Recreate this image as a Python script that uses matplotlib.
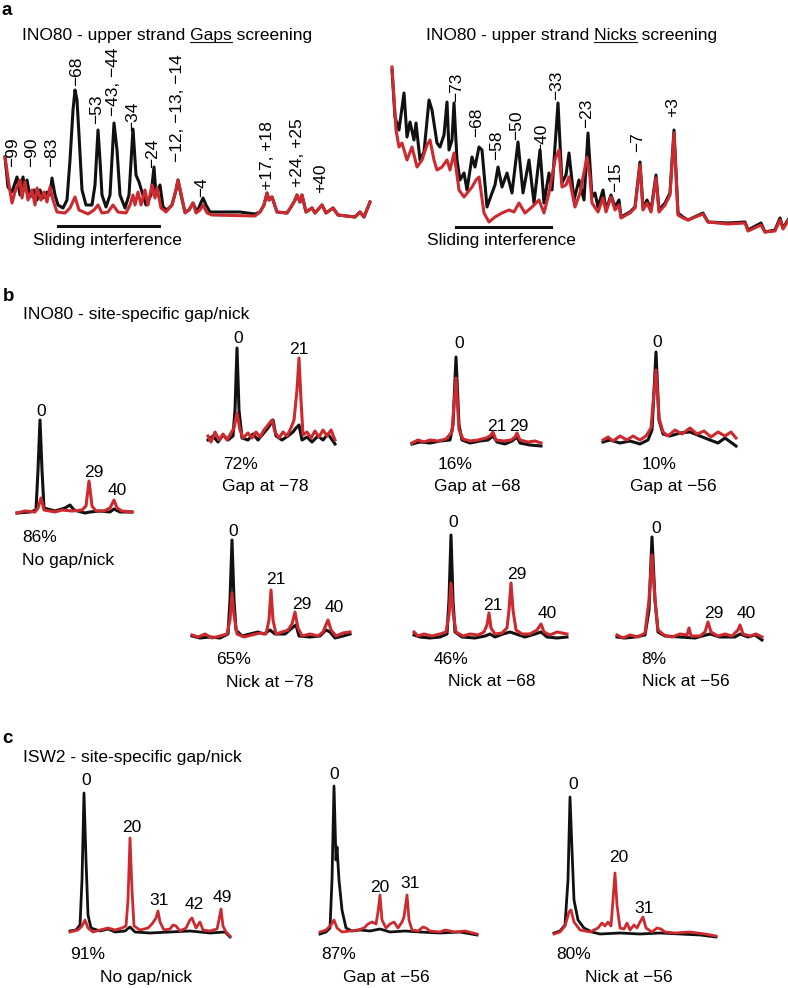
import matplotlib
matplotlib.use("Agg")
import matplotlib.pyplot as plt
from matplotlib.lines import Line2D

plt.rcParams['font.family'] = ['Liberation Sans', 'DejaVu Sans']

BLACK = "#111111"
RED = "#cc2a2e"

# ---- traces: (position along lane, signal above baseline) ----
# a, gaps screening
a_gaps_black = [(0, 65), (3, 35), (7, 30), (12, 45), (15, 27), (18, 45), (20, 32), (22, 42), (25, 25),
                (29, 32), (32, 22), (35, 32), (38, 24), (42, 30), (45, 27), (47, 44), (50, 27), (53, 17),
                (58, 14), (62, 22), (65, 62), (68, 112), (70, 132), (72, 122), (74, 87), (77, 32), (81, 17),
                (87, 17), (90, 37), (93, 92), (95, 62), (97, 27), (101, 15), (105, 27), (109, 99), (112, 72),
                (115, 27), (120, 14), (124, 27), (128, 93), (131, 47), (134, 40), (137, 30), (141, 17),
                (146, 27), (149, 55), (151, 27), (155, 37), (158, 15), (162, 12), (167, 17), (171, 32),
                (173, 42), (176, 27), (180, 10), (184, 12), (188, 19), (192, 10), (198, 24), (201, 17),
                (205, 10), (210, 10), (235, 10), (250, 8), (255, 10), (259, 17), (262, 29), (264, 22),
                (267, 25), (272, 10), (282, 9), (286, 15), (290, 22), (292, 27), (295, 20), (297, 27),
                (301, 10), (307, 14), (310, 9), (317, 17), (321, 9), (328, 14), (333, 7), (350, 5),
                (355, 10), (359, 5), (365, 20)]
a_gaps_red = [(0, 65), (4, 37), (7, 19), (10, 30), (15, 42), (17, 24), (20, 40), (23, 22), (27, 32),
              (30, 17), (32, 34), (36, 22), (39, 30), (42, 20), (45, 35), (48, 22), (52, 10), (60, 9),
              (65, 14), (70, 25), (74, 12), (83, 8), (89, 12), (93, 17), (97, 9), (103, 10), (108, 17),
              (113, 10), (121, 9), (125, 17), (128, 27), (130, 17), (133, 30), (136, 17), (140, 32),
              (143, 17), (147, 37), (150, 24), (152, 34), (156, 14), (161, 10), (167, 17), (171, 32),
              (173, 42), (176, 29), (180, 9), (184, 12), (188, 19), (191, 9), (195, 12), (198, 17),
              (202, 9), (207, 7), (250, 6), (255, 10), (259, 17), (262, 29), (264, 22), (267, 25),
              (272, 10), (282, 9), (286, 15), (290, 22), (292, 27), (295, 20), (297, 27), (301, 10),
              (307, 14), (310, 9), (317, 17), (321, 9), (328, 14), (333, 7), (350, 5), (355, 10),
              (359, 5), (365, 20)]
# a, nicks screening
a_nicks_black = [(0, 165), (3, 118), (7, 105), (12, 142), (15, 98), (18, 113), (22, 95), (24, 112),
                 (28, 75), (32, 83), (37, 135), (40, 125), (45, 92), (48, 88), (52, 100), (55, 133),
                 (57, 85), (60, 95), (62, 132), (65, 75), (68, 55), (72, 62), (75, 45), (80, 78), (83, 68),
                 (87, 88), (90, 85), (95, 28), (100, 42), (103, 50), (106, 68), (110, 48), (115, 62),
                 (120, 42), (126, 93), (131, 42), (137, 75), (142, 32), (148, 85), (152, 32), (157, 62),
                 (160, 45), (166, 132), (170, 52), (174, 60), (177, 82), (182, 35), (187, 55), (192, 35),
                 (196, 102), (200, 38), (203, 42), (206, 28), (211, 45), (214, 25), (219, 40), (223, 28),
                 (227, 35), (229, 18), (238, 23), (243, 28), (248, 73), (251, 27), (255, 35), (259, 25),
                 (264, 60), (267, 25), (273, 32), (278, 42), (282, 105), (286, 22), (291, 18), (296, 15),
                 (311, 22), (316, 13), (336, 12), (353, 13), (356, 5), (369, 12), (373, 3), (383, 5),
                 (388, 17), (391, 7), (396, 15)]
a_nicks_red = [(0, 168), (4, 105), (7, 88), (10, 92), (15, 75), (20, 88), (25, 68), (30, 75), (35, 90),
               (38, 95), (42, 75), (45, 65), (50, 68), (55, 75), (58, 65), (62, 82), (67, 45), (72, 38),
               (76, 43), (80, 48), (84, 55), (87, 58), (92, 22), (97, 13), (103, 18), (110, 22), (117, 25),
               (122, 23), (127, 32), (133, 22), (140, 28), (147, 35), (152, 22), (157, 42), (163, 75),
               (167, 85), (170, 48), (174, 50), (177, 58), (183, 28), (188, 42), (195, 78), (198, 58),
               (200, 32), (206, 23), (211, 37), (214, 23), (219, 38), (223, 25), (227, 30), (229, 17),
               (238, 22), (243, 27), (248, 70), (251, 25), (255, 32), (259, 23), (264, 57), (267, 23),
               (273, 30), (278, 40), (282, 102), (286, 20), (291, 17), (296, 15), (311, 21), (316, 13),
               (336, 11), (353, 12), (356, 4), (369, 10), (373, 3), (383, 4), (388, 15), (391, 6), (396, 14)]

# b, INO80 site-specific gap/nick
b_none_black = [(0, 0), (13, 1), (19, 3), (21, 43), (23, 93), (25, 43), (27, 5), (38, 2), (48, 5), (53, 8),
                (57, 3), (68, 0), (73, 1), (83, 2), (93, 1), (97, 4), (103, 1), (115, 1)]
b_none_red = [(0, 0), (8, 2), (18, 1), (21, 5), (24, 15), (27, 3), (38, 1), (45, 3), (55, 2), (65, 3),
              (69, 7), (72, 32), (75, 7), (79, 2), (87, 2), (93, 5), (97, 13), (100, 5), (105, 2), (115, 1)]
b_gap78_black = [(0, 0), (5, 4), (10, -2), (15, 5), (20, 0), (25, 4), (27, 30), (29, 92), (31, 30), (34, 2),
                 (40, 0), (45, 6), (50, 0), (55, 6), (60, 12), (65, 20), (68, 4), (74, 0), (80, 4), (85, 8),
                 (88, 12), (91, 15), (94, 0), (99, 3), (104, -2), (110, 4), (115, 0), (120, 6), (127, -4)]
b_gap78_red = [(0, 4), (3, -2), (7, 8), (11, 0), (15, 6), (19, 0), (23, 7), (26, 12), (29, 27), (32, 10),
               (35, 2), (40, 7), (44, 2), (48, 8), (52, 3), (56, 10), (60, 15), (64, 20), (67, 8), (71, 2),
               (75, 8), (79, 4), (83, 12), (86, 20), (89, 50), (91, 82), (93, 40), (95, 5), (99, 8), (103, 2),
               (107, 9), (111, 3), (115, 10), (119, 4), (123, 10), (127, 0)]
b_gap68_black = [(0, 0), (8, 2), (18, 1), (28, 3), (38, 4), (41, 19), (44, 87), (47, 19), (50, 4), (58, 1),
                 (68, 3), (76, 4), (81, 8), (85, 2), (93, 0), (100, 3), (105, 7), (108, 1), (118, -1), (129, -2)]
b_gap68_red = [(0, 1), (6, 4), (12, 2), (18, 4), (26, 3), (34, 5), (40, 12), (44, 66), (47, 14), (51, 5),
               (58, 3), (66, 4), (74, 6), (78, 8), (81, 12), (84, 4), (92, 3), (99, 4), (103, 7), (105, 11),
               (108, 4), (116, 2), (123, 3), (129, 1)]
b_gap56_black = [(0, 0), (7, 2), (17, -1), (27, 1), (37, -2), (45, 2), (49, 12), (53, 90), (56, 22), (60, 8),
                 (67, 6), (77, 9), (87, 10), (97, 6), (107, 2), (115, -1), (122, 4), (133, -4)]
b_gap56_red = [(0, 2), (5, 5), (10, 1), (17, 6), (24, 2), (30, 6), (37, 2), (43, 6), (48, 14), (53, 72),
               (56, 24), (60, 10), (65, 6), (72, 12), (79, 8), (87, 14), (94, 8), (101, 11), (108, 5),
               (115, 10), (122, 6), (128, 10), (133, 4)]
b_nick78_black = [(0, 2), (8, 0), (18, 1), (28, 0), (36, 4), (38, 38), (40, 98), (42, 38), (44, 8), (50, 2),
                  (58, 4), (66, 6), (72, 4), (78, 8), (83, 4), (93, 4), (100, 10), (104, 13), (107, 2),
                  (118, 1), (128, 2), (134, 8), (138, 6), (143, 0), (151, 2), (158, 4)]
b_nick78_red = [(0, 3), (6, 1), (13, 4), (20, 0), (28, 2), (35, 4), (38, 18), (40, 45), (42, 23), (45, 4),
                (52, 1), (60, 3), (68, 5), (74, 4), (77, 18), (79, 48), (81, 18), (84, 4), (90, 6), (96, 8),
                (100, 14), (103, 26), (106, 10), (110, 2), (118, 4), (126, 2), (131, 6), (136, 18), (139, 8),
                (144, 2), (151, 5), (158, 6)]
b_nick68_black = [(0, 3), (6, 1), (16, 0), (26, 1), (33, 4), (35, 38), (37, 103), (39, 38), (41, 6), (48, 1),
                  (61, 0), (71, 2), (76, 4), (81, 1), (89, 4), (96, 6), (102, 4), (111, 1), (121, 4),
                  (127, 6), (133, 1), (143, 0), (153, 1)]
b_nick68_red = [(0, 6), (4, 2), (10, 4), (18, 2), (26, 4), (32, 6), (35, 23), (37, 55), (39, 26), (42, 6),
                (49, 2), (56, 4), (64, 3), (70, 6), (73, 13), (75, 25), (77, 10), (81, 4), (88, 5), (93, 10),
                (95, 28), (97, 55), (99, 28), (102, 8), (108, 4), (116, 4), (123, 8), (127, 14), (130, 6),
                (136, 3), (143, 6), (153, 4)]
b_nick56_black = [(0, 2), (8, 1), (18, 2), (28, 4), (32, 29), (35, 102), (38, 39), (41, 7), (48, 3), (63, 2),
                  (78, 1), (89, 4), (93, 5), (103, 2), (118, 2), (123, 5), (131, 2), (138, 4), (145, -1)]
b_nick56_red = [(0, 4), (6, 1), (13, 4), (21, 2), (28, 6), (32, 39), (35, 84), (38, 39), (41, 9), (47, 4),
                (55, 2), (63, 5), (70, 4), (72, 11), (74, 3), (83, 3), (88, 7), (91, 17), (94, 7), (101, 3),
                (108, 5), (115, 3), (121, 9), (123, 14), (126, 5), (133, 3), (139, 5), (145, 2)]

# c, ISW2 site-specific gap/nick
c_none_black = [(0, 2), (6, 3), (10, 8), (12, 53), (14, 140), (16, 73), (18, 18), (21, 5), (30, 2), (38, 4),
                (45, 1), (55, 2), (60, 6), (65, 1), (80, 0), (100, 1), (120, 2), (140, 0), (155, 1), (160, -4)]
c_none_red = [(0, 1), (8, 3), (12, 7), (15, 13), (18, 5), (23, 1), (30, 3), (38, 5), (45, 3), (52, 5),
              (56, 7), (58, 33), (60, 95), (62, 43), (64, 7), (70, 3), (78, 5), (82, 9), (86, 15), (88, 22),
              (90, 11), (94, 3), (100, 4), (103, 8), (106, 7), (110, 2), (116, 5), (120, 13), (122, 15),
              (126, 5), (130, 11), (133, 3), (140, 2), (147, 4), (149, 13), (151, 24), (153, 7), (156, 1),
              (160, -3)]
c_gap56_black = [(0, -1), (6, 1), (10, 5), (12, 53), (14, 147), (16, 73), (17, 86), (19, 53), (22, 23),
                 (26, 5), (32, 2), (40, 3), (50, 2), (60, 4), (70, 1), (85, 2), (100, 1), (120, 0), (140, 1),
                 (157, -2)]
c_gap56_red = [(0, 1), (6, 3), (11, 8), (14, 13), (17, 5), (22, 1), (30, 2), (38, 3), (44, 5), (48, 9),
               (52, 11), (56, 9), (58, 21), (60, 38), (62, 13), (66, 5), (70, 9), (74, 11), (78, 5), (82, 11),
               (84, 16), (87, 38), (89, 13), (92, 3), (98, 2), (103, 6), (106, 5), (110, 2), (120, 1),
               (125, 3), (135, 1), (145, 2), (157, -1)]
c_nick56_black = [(0, 2), (6, 4), (11, 10), (14, 55), (16, 138), (18, 85), (20, 35), (24, 15), (30, 7),
                  (38, 3), (46, 1), (66, 2), (86, 1), (106, 2), (126, 1), (146, 0), (162, -2)]
c_nick56_red = [(0, 1), (6, 3), (11, 9), (15, 23), (17, 25), (20, 13), (26, 5), (36, 3), (44, 7), (48, 12),
                (51, 9), (54, 13), (57, 9), (59, 35), (61, 62), (63, 30), (66, 7), (70, 6), (73, 12), (76, 5),
                (80, 10), (83, 7), (86, 13), (89, 18), (92, 7), (98, 3), (103, 7), (107, 6), (111, 3),
                (121, 2), (136, 3), (151, 1), (162, -1)]

# ---- figure, 1 data unit = 1 pixel ----
W, H = 788, 988
FS = 12.5
fig = plt.figure(figsize=(W / 100, H / 100), dpi=100)


def lane(x0, base, width, black, red, lw=2.2, lo=-12, hi=175):
    ax = fig.add_axes([x0 / W, (H - base + lo) / H, width / W, (hi - lo) / H])
    ax.set_xlim(0, width)
    ax.set_ylim(lo, hi)
    ax.axis("off")
    for pts, col in ((black, BLACK), (red, RED)):
        xs, ys = zip(*pts)
        ax.plot(xs, ys, color=col, lw=lw, solid_joinstyle="round", clip_on=False)
    return ax


def txt(x, y, s, size=FS, **kw):
    kw.setdefault("va", "baseline")
    return fig.text(x / W, 1 - y / H, s, fontsize=size, **kw)


def vlabel(x, bottom, s):
    txt(x, bottom, s, rotation=90, ha="center", va="bottom")


def hbar(x1, x2, y):
    fig.add_artist(Line2D([x1 / W, x2 / W], [1 - y / H] * 2, color=BLACK, lw=2.2))


def underlined_title(x, y, head, word, tail):
    t = txt(x, y, head + word + tail, ha="left")
    r = fig.canvas.get_renderer()
    probe = txt(x, y, head + word, ha="left")
    end = probe.get_window_extent(r).x1
    probe.set_text(word)
    start = end - probe.get_window_extent(r).width
    probe.remove()
    uy = (H - y - 2.5) / H
    fig.add_artist(Line2D([start / W, end / W], [uy, uy], color=BLACK, lw=0.8))
    return t


# ---- panel a ----
txt(2, 15, "a", size=13.5, weight="bold")
underlined_title(22, 40, "INO80 - upper strand ", "Gaps", " screening")
underlined_title(426, 40, "INO80 - upper strand ", "Nicks", " screening")
lane(5, 222, 367, a_gaps_black, a_gaps_red)
lane(392, 235, 396, a_nicks_black, a_nicks_red)

for x, b, s in [(13, 167, "\u221299"), (32, 167, "\u221290"), (52, 167, "\u221283"), (77, 86, "\u221268"),
                (97, 124, "\u221253"), (114, 116, "\u221243, \u221244"), (133, 131, "\u221234"),
                (153, 168, "\u221224"), (178, 162, "\u221212, \u221213, \u221214"), (202, 197, "\u22124"),
                (268, 190, "+17, +18"), (298, 187, "+24, +25"), (321, 193, "+40"),
                (457, 102, "\u221273"), (477, 137, "\u221268"), (497, 160, "\u221258"), (517, 140, "\u221250"),
                (542, 153, "\u221240"), (557, 100, "\u221233"), (587, 128, "\u221223"), (616, 192, "\u221215"),
                (638, 152, "\u22127"), (673, 117, "+3")]:
    vlabel(x, b, s)

hbar(58, 159, 226)
hbar(456, 551, 227)
txt(107, 245, "Sliding interference", ha="center")
txt(501, 245, "Sliding interference", ha="center")

# ---- panel b ----
txt(3, 301, "b", size=13.5, weight="bold")
txt(23, 319, "INO80 - site-specific gap/nick", ha="left")
lane(17, 513, 115, b_none_black, b_none_red)
lane(208, 440, 127, b_gap78_black, b_gap78_red)
lane(412, 444, 129, b_gap68_black, b_gap68_red)
lane(603, 442, 133, b_gap56_black, b_gap56_red)
lane(192, 638, 158, b_nick78_black, b_nick78_red)
lane(414, 638, 153, b_nick68_black, b_nick68_red)
lane(617, 639, 145, b_nick56_black, b_nick56_red)

for x, y, s in [(41, 416, "0"), (94, 477, "29"), (117, 495, "40"), (40, 542, "86%"),
                (238, 343, "0"), (299, 354, "21"), (240, 469, "72%"), (265, 491, "Gap at \u221278"),
                (459, 348, "0"), (497, 431, "21"), (519, 431, "29"), (455, 469, "16%"),
                (477, 491, "Gap at \u221268"),
                (657, 347, "0"), (659, 469, "10%"), (673, 491, "Gap at \u221256"),
                (233, 536, "0"), (276, 584, "21"), (302, 609, "29"), (334, 612, "40"), (234, 664, "65%"),
                (270, 687, "Nick at \u221278"),
                (453, 527, "0"), (493, 610, "21"), (517, 579, "29"), (547, 618, "40"), (451, 664, "46%"),
                (492, 686, "Nick at \u221268"),
                (656, 533, "0"), (714, 618, "29"), (746, 618, "40"), (654, 664, "8%"),
                (686, 686, "Nick at \u221256")]:
    txt(x, y, s, ha="center")
txt(22, 565, "No gap/nick", ha="left")

# ---- panel c ----
txt(2, 743, "c", size=13.5, weight="bold")
txt(23, 762, "ISW2 - site-specific gap/nick", ha="left")
lane(70, 933, 160, c_none_black, c_none_red, lw=2.0)
lane(320, 933, 157, c_gap56_black, c_gap56_red, lw=2.0)
lane(554, 935, 162, c_nick56_black, c_nick56_red, lw=2.0)

for x, y, s in [(86, 785, "0"), (132, 832, "20"), (159, 905, "31"), (194, 909, "42"), (222, 902, "49"),
                (88, 959, "91%"), (146, 982, "No gap/nick"),
                (334, 779, "0"), (380, 892, "20"), (410, 888, "31"), (339, 959, "87%"),
                (386, 982, "Gap at \u221256"),
                (573, 789, "0"), (619, 862, "20"), (644, 913, "31"), (574, 959, "80%"),
                (629, 982, "Nick at \u221256")]:
    txt(x, y, s, ha="center")

fig.savefig("out.png", dpi=100, facecolor="white")
